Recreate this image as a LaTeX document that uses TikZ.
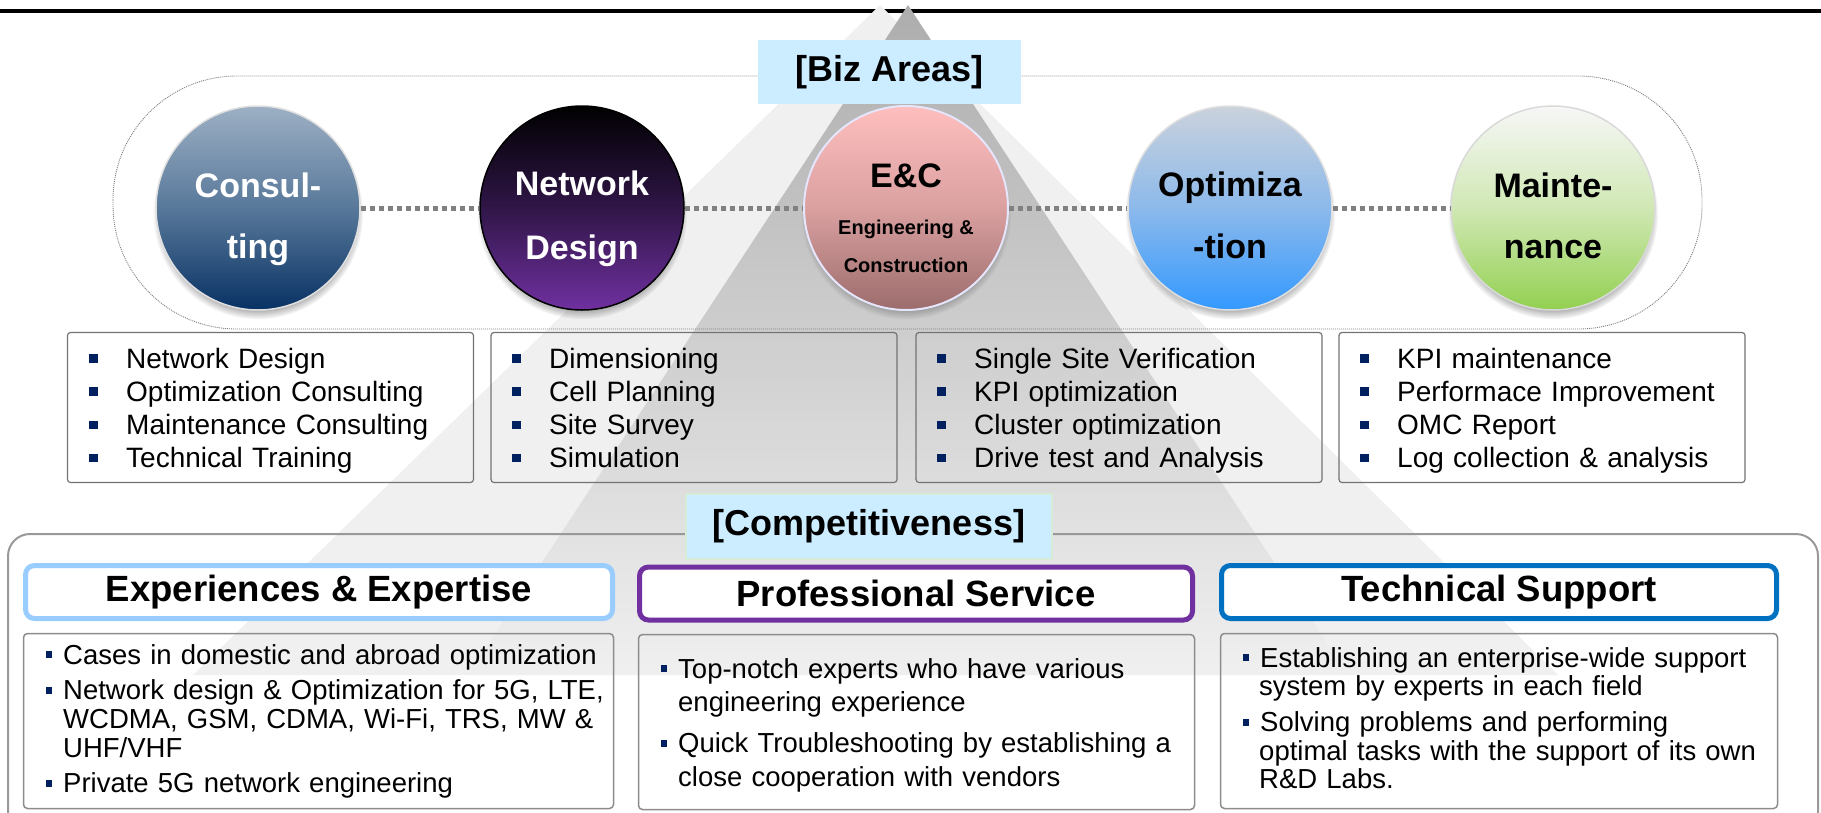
\documentclass[tikz,border=0pt]{standalone}
\usepackage{fontspec}
\setmainfont{Liberation Sans}
\usepackage{tikz}
\usetikzlibrary{shadows}
\usetikzlibrary{positioning}
\definecolor{tagblue}{RGB}{204,236,255}
\definecolor{tagedge}{RGB}{214,236,214}
\definecolor{bulnavy}{RGB}{0,32,96}
\definecolor{constop}{RGB}{157,176,196}
\definecolor{consmid}{RGB}{88,120,154}
\definecolor{consbot}{RGB}{8,50,100}
\definecolor{netdmid}{RGB}{48,22,72}
\definecolor{netdbot}{RGB}{112,48,160}
\definecolor{enctop}{RGB}{255,190,190}
\definecolor{encmid}{RGB}{218,160,160}
\definecolor{encbot}{RGB}{156,108,108}
\definecolor{optmtop}{RGB}{203,210,220}
\definecolor{optmmid}{RGB}{140,185,235}
\definecolor{optmbot}{RGB}{51,153,255}
\definecolor{manttop}{RGB}{247,247,247}
\definecolor{mantmid}{RGB}{208,232,180}
\definecolor{mantbot}{RGB}{146,208,80}
\definecolor{expblue}{RGB}{153,204,255}
\definecolor{propurple}{RGB}{112,48,160}
\definecolor{tecblue}{RGB}{0,112,192}
\newcommand{\bigbul}{\textcolor{bulnavy}{\rule[5.5pt]{8.5pt}{8.5pt}}\hspace{28.5pt}}
\newcommand{\smlbul}{\textcolor{bulnavy}{\rule[6pt]{6pt}{7pt}}\hspace{11pt}}
\tikzset{
    bizcirc/.style={circle, minimum size=204pt, inner sep=0pt, line width=1.5pt,
        circular drop shadow={shadow xshift=0pt, shadow yshift=-6pt, shadow scale=1.03}},
    bizlink/.style={draw=black!50, line width=5pt, dash pattern=on 5pt off 4pt},
    cirtext/.style={font=\bfseries\fontsize{34}{40}\selectfont, anchor=base, inner sep=0pt},
    cirsmall/.style={font=\bfseries\fontsize{20}{24}\selectfont, anchor=base, inner sep=0pt},
    tagbox/.style={fill=tagblue, minimum height=64pt, inner sep=0pt,
        font=\bfseries\fontsize{36}{40}\selectfont},
    listbox/.style={draw=black!55, line width=1.2pt, rounded corners=3pt,
        minimum width=406pt, minimum height=150pt, inner sep=0pt},
    listtext/.style={anchor=base west, inner sep=0pt, text width=390pt, align=left,
        font=\fontsize{28}{33.3}\selectfont},
    headbox/.style={fill=white, line width=5pt, rounded corners=9pt, minimum height=53pt,
        inner sep=0pt, font=\bfseries\fontsize{36.5}{40}\selectfont},
    infobox/.style={draw=black!45, line width=1.5pt, rounded corners=4pt,
        minimum height=175pt, inner sep=0pt},
    infotext/.style={anchor=base west, inner sep=0pt, text width=700pt, align=left},
}
\begin{document}
\begin{tikzpicture}[x=1pt, y=-1pt]
	\useasboundingbox (0,0) rectangle (1821,812);
	\draw[line width=4pt] (0,11) -- (1821,11);
	% pyramid in the back
	\fill[black!6] (880,5) -- (1558,675) -- (193,675) -- cycle;
	\shade[top color=black!32, middle color=black!11, bottom color=black!6]
		(908,5) -- (1348,675) -- (468,675) -- cycle;
	%
	\draw[black!50, line width=0.9pt, dash pattern=on 1pt off 1pt, rounded corners=124pt]
		(113,76) rectangle (1702,329);
	\node[tagbox, minimum width=263pt] (bizlbl) at (889.5,72) {[Biz Areas]};
	%
	\node[bizcirc, top color=constop, bottom color=consbot, middle color=consmid,
		draw=white!88!black] (cons) at (258,208) {};
	\node[bizcirc, top color=black, bottom color=netdbot, middle color=netdmid,
		draw=black] (netd) at (582,208) {};
	\node[bizcirc, top color=enctop, bottom color=encbot, middle color=encmid,
		draw=black!12!blue!10!white, line width=2pt] (enc) at (906,208) {};
	\node[bizcirc, top color=optmtop, bottom color=optmbot, middle color=optmmid,
		draw=white!88!black] (optm) at (1230,208) {};
	\node[bizcirc, top color=manttop, bottom color=mantbot, middle color=mantmid,
		draw=white!85!black] (mant) at (1553,208) {};
	\draw[bizlink] (cons) -- (netd);
	\draw[bizlink] (netd) -- (enc);
	\draw[bizlink] (enc) -- (optm);
	\draw[bizlink] (optm) -- (mant);
	%
	\node[cirtext, white] (cons-a) at (258,197) {Consul-};
	\node[cirtext, white] (cons-b) at (258,258) {ting};
	\node[cirtext, white] (netd-a) at (582,195) {Network};
	\node[cirtext, white] (netd-b) at (582,259) {Design};
	\node[cirtext] (enc-a) at (906,187) {E\&C};
	\node[cirsmall] (enc-b) at (906,234) {Engineering \&};
	\node[cirsmall] (enc-c) at (906,272) {Construction};
	\node[cirtext] (optm-a) at (1230,196) {Optimiza};
	\node[cirtext] (optm-b) at (1230,258) {-tion};
	\node[cirtext] (mant-a) at (1553,197) {Mainte-};
	\node[cirtext] (mant-b) at (1553,258) {nance};
	%
	\node[listbox] (consbox) at (270.5,407.5) {};
	\node[listbox] (netdbox) at (694,407.5) {};
	\node[listbox] (encbox) at (1119,407.5) {};
	\node[listbox] (optmbox) at (1542,407.5) {};
	\node[listtext] (conslist) at (89,368) {\bigbul Network Design\\ \bigbul Optimization Consulting\\
		\bigbul Maintenance Consulting\\ \bigbul Technical Training};
	\node[listtext] (netdlist) at (512,368) {\bigbul Dimensioning\\ \bigbul Cell Planning\\
		\bigbul Site Survey\\ \bigbul Simulation};
	\node[listtext] (enclist) at (937,368) {\bigbul Single Site Verification\\ \bigbul KPI optimization\\
		\bigbul Cluster optimization\\ \bigbul Drive test and Analysis};
	\node[listtext] (optmlist) at (1360,368) {\bigbul KPI maintenance\\ \bigbul Performace Improvement\\
		\bigbul OMC Report\\ \bigbul Log collection \& analysis};
	%
	\draw[black!40, line width=2pt, rounded corners=22pt] (8,840) -- (8,534) -- (1818,534) -- (1818,840);
	\node[tagbox, draw=tagedge, line width=1.5pt, minimum width=366pt, minimum height=65pt] (complbl)
		at (869,526.5) {[Competitiveness]};
	%
	\node[headbox, draw=expblue, minimum width=587pt] (exphead) at (319,592) {Experiences \& Expertise};
	\node[headbox, draw=propurple, minimum width=553pt] (prohead) at (916,593.5) {Professional Service};
	\node[headbox, draw=tecblue, minimum width=555pt] (techead) at (1499,592) {Technical Support};
	\node[infobox, minimum width=590pt] (expbox) at (318.5,721) {};
	\node[infobox, minimum width=556pt] (probox) at (916.5,722) {};
	\node[infobox, minimum width=557pt] (tecbox) at (1499,721) {};
	\node[infotext, font=\fontsize{27.5}{28.7}\selectfont] (explist) at (46,664) {%
		\smlbul Cases in domestic and abroad optimization\\[7pt]
		\smlbul Network design \& Optimization for 5G, LTE,\\
		\hspace*{17pt}WCDMA, GSM, CDMA, Wi-Fi, TRS, MW \&\\
		\hspace*{17pt}UHF/VHF\\[7pt]
		\smlbul Private 5G network engineering};
	\node[infotext, font=\fontsize{27.5}{33.5}\selectfont] (prolist) at (661,678) {%
		\smlbul Top-notch experts who have various\\
		\hspace*{17pt}engineering experience\\[7.5pt]
		\smlbul Quick Troubleshooting by establishing a\\
		\hspace*{17pt}close cooperation with vendors};
	\node[infotext, font=\fontsize{27.5}{28.5}\selectfont] (teclist) at (1243,667) {%
		\smlbul Establishing an enterprise-wide support\\
		\hspace*{16pt}system by experts in each field\\[7.5pt]
		\smlbul Solving problems and performing\\
		\hspace*{16pt}optimal tasks with the support of its own\\
		\hspace*{16pt}R\&D Labs.};
\end{tikzpicture}
\end{document}
